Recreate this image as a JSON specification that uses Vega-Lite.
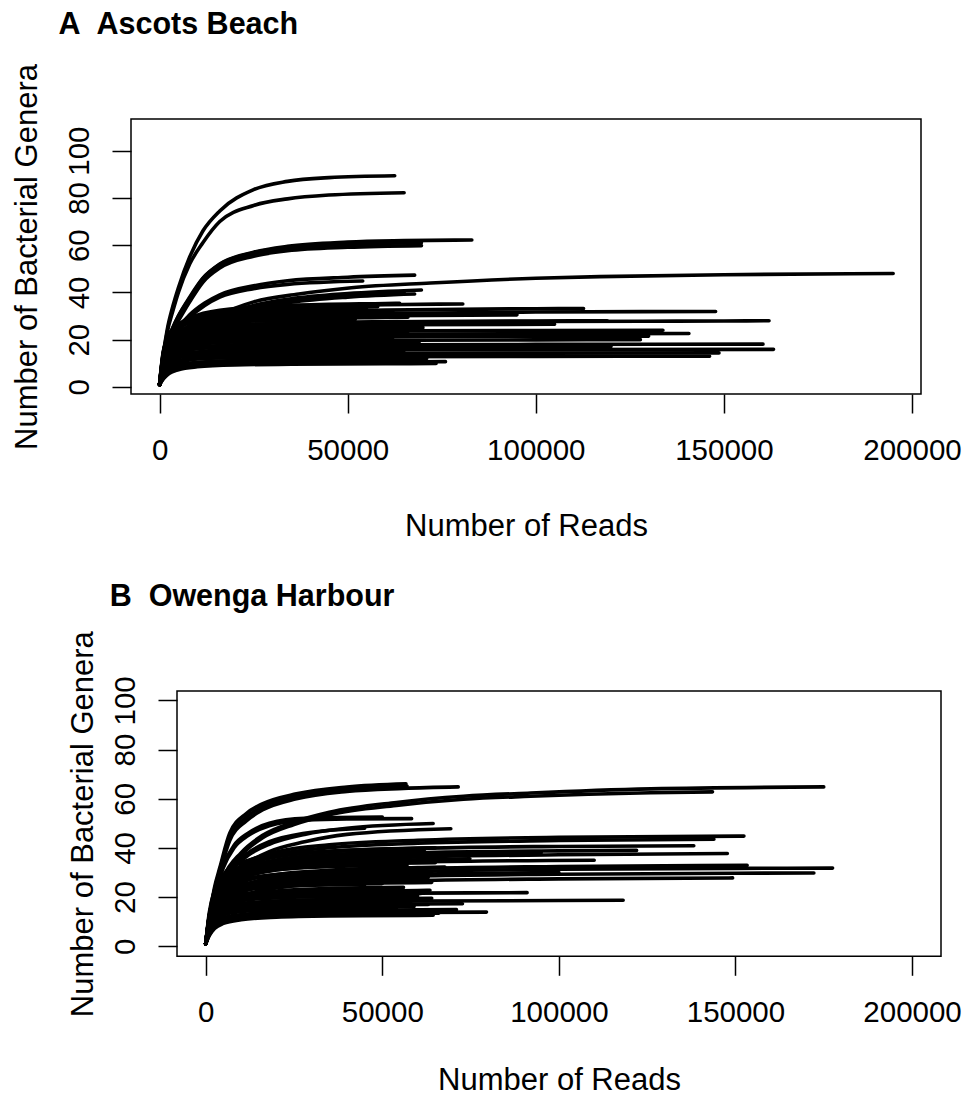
{
"$schema": "https://vega.github.io/schema/vega-lite/v6.json",
"background": "white",
"autosize": {"type": "pad"},
"padding": {"left": 7, "top": 9, "right": 0, "bottom": 0},
"spacing": 38,
"datasets": {
"a": [
{"s":"a1","x":0,"y":1},{"s":"a1","x":1000,"y":14},{"s":"a1","x":2000,"y":24},{"s":"a1","x":3500,"y":34},{"s":"a1","x":5000,"y":42},{"s":"a1","x":8000,"y":55},{"s":"a1","x":11500,"y":66},{"s":"a1","x":16000,"y":74.5},{"s":"a1","x":25000,"y":83.5},{"s":"a1","x":34000,"y":87},{"s":"a1","x":45000,"y":88.6},{"s":"a1","x":62500,"y":89.4},
{"s":"a2","x":0,"y":1},{"s":"a2","x":1000,"y":13.5},{"s":"a2","x":2000,"y":23},{"s":"a2","x":3500,"y":32},{"s":"a2","x":5000,"y":40},{"s":"a2","x":8000,"y":52},{"s":"a2","x":11500,"y":61},{"s":"a2","x":16000,"y":70},{"s":"a2","x":25000,"y":76.8},{"s":"a2","x":34000,"y":79.6},{"s":"a2","x":45000,"y":81.2},{"s":"a2","x":65000,"y":82.2},
{"s":"a3","x":0,"y":1},{"s":"a3","x":1000,"y":11},{"s":"a3","x":2000,"y":19},{"s":"a3","x":3500,"y":25},{"s":"a3","x":5000,"y":30},{"s":"a3","x":8000,"y":38},{"s":"a3","x":11500,"y":46},{"s":"a3","x":16000,"y":52},{"s":"a3","x":25000,"y":57},{"s":"a3","x":34000,"y":59.5},{"s":"a3","x":50000,"y":61.3},{"s":"a3","x":65000,"y":61.9},{"s":"a3","x":83000,"y":62.2},
{"s":"a4","x":0,"y":1},{"s":"a4","x":1000,"y":11},{"s":"a4","x":2000,"y":18.5},{"s":"a4","x":3500,"y":24.5},{"s":"a4","x":5000,"y":29},{"s":"a4","x":8000,"y":37},{"s":"a4","x":11500,"y":45.5},{"s":"a4","x":16000,"y":51.5},{"s":"a4","x":25000,"y":56.5},{"s":"a4","x":34000,"y":58.8},{"s":"a4","x":50000,"y":60.3},{"s":"a4","x":69600,"y":61},
{"s":"a5","x":0,"y":1},{"s":"a5","x":1000,"y":10.5},{"s":"a5","x":2000,"y":18},{"s":"a5","x":3500,"y":24},{"s":"a5","x":5000,"y":28},{"s":"a5","x":8000,"y":36},{"s":"a5","x":11500,"y":44.3},{"s":"a5","x":16000,"y":50.3},{"s":"a5","x":25000,"y":55.3},{"s":"a5","x":34000,"y":57.6},{"s":"a5","x":50000,"y":59.1},{"s":"a5","x":69600,"y":59.8},
{"s":"a6","x":0,"y":1},{"s":"a6","x":1000,"y":11},{"s":"a6","x":2000,"y":19},{"s":"a6","x":3500,"y":25},{"s":"a6","x":5000,"y":30},{"s":"a6","x":8000,"y":37.5},{"s":"a6","x":11500,"y":45.8},{"s":"a6","x":16000,"y":51.8},{"s":"a6","x":25000,"y":56.8},{"s":"a6","x":34000,"y":59},{"s":"a6","x":50000,"y":60.4},{"s":"a6","x":60000,"y":61},
{"s":"a7","x":0,"y":1},{"s":"a7","x":1000,"y":10},{"s":"a7","x":2000,"y":16},{"s":"a7","x":3500,"y":21.5},{"s":"a7","x":5000,"y":25},{"s":"a7","x":8000,"y":30.5},{"s":"a7","x":12000,"y":35.5},{"s":"a7","x":16000,"y":39},{"s":"a7","x":25000,"y":42.8},{"s":"a7","x":34000,"y":44.9},{"s":"a7","x":50000,"y":46.4},{"s":"a7","x":67800,"y":47.3},
{"s":"a8","x":0,"y":1},{"s":"a8","x":1000,"y":10},{"s":"a8","x":2000,"y":15.5},{"s":"a8","x":3500,"y":21},{"s":"a8","x":5000,"y":24.5},{"s":"a8","x":8000,"y":29.5},{"s":"a8","x":12000,"y":34.5},{"s":"a8","x":16000,"y":38},{"s":"a8","x":25000,"y":41.6},{"s":"a8","x":34000,"y":43.4},{"s":"a8","x":54000,"y":44.8},
{"s":"a9","x":0,"y":1},{"s":"a9","x":1000,"y":9},{"s":"a9","x":2000,"y":13.5},{"s":"a9","x":3500,"y":16.5},{"s":"a9","x":5000,"y":19},{"s":"a9","x":8000,"y":23},{"s":"a9","x":16000,"y":30.5},{"s":"a9","x":25000,"y":36},{"s":"a9","x":37000,"y":39.3},{"s":"a9","x":51000,"y":42},{"s":"a9","x":72000,"y":44},{"s":"a9","x":100000,"y":46},{"s":"a9","x":117000,"y":46.7},{"s":"a9","x":150000,"y":47.5},{"s":"a9","x":195000,"y":48},
{"s":"a10","x":0,"y":1},{"s":"a10","x":1000,"y":9.5},{"s":"a10","x":2000,"y":14.5},{"s":"a10","x":3500,"y":18},{"s":"a10","x":5000,"y":20},{"s":"a10","x":8000,"y":24},{"s":"a10","x":16000,"y":30},{"s":"a10","x":25000,"y":34.5},{"s":"a10","x":35000,"y":37.3},{"s":"a10","x":50000,"y":39.5},{"s":"a10","x":69600,"y":41},
{"s":"a11","x":0,"y":1},{"s":"a11","x":1000,"y":9.5},{"s":"a11","x":2000,"y":14},{"s":"a11","x":3500,"y":17.5},{"s":"a11","x":5000,"y":19.5},{"s":"a11","x":8000,"y":23},{"s":"a11","x":16000,"y":28.5},{"s":"a11","x":25000,"y":33},{"s":"a11","x":35000,"y":35.8},{"s":"a11","x":50000,"y":38},{"s":"a11","x":67800,"y":39.3},
{"s":"a12","x":0,"y":1},{"s":"a12","x":1000,"y":9.5},{"s":"a12","x":2000,"y":14.5},{"s":"a12","x":3500,"y":18},{"s":"a12","x":5000,"y":20},{"s":"a12","x":8000,"y":23.5},{"s":"a12","x":16000,"y":29},{"s":"a12","x":25000,"y":33.5},{"s":"a12","x":35000,"y":36.5},{"s":"a12","x":50000,"y":38.5},{"s":"a12","x":65000,"y":40},
{"s":"a13","x":0,"y":1},{"s":"a13","x":1000,"y":12},{"s":"a13","x":2500,"y":20},{"s":"a13","x":5000,"y":25.7},{"s":"a13","x":10000,"y":30},{"s":"a13","x":20000,"y":32.7},{"s":"a13","x":35000,"y":34.1},{"s":"a13","x":60000,"y":34.8},{"s":"a13","x":80600,"y":35.1},
{"s":"a14","x":0,"y":1},{"s":"a14","x":1000,"y":12.2},{"s":"a14","x":2500,"y":20.3},{"s":"a14","x":5000,"y":26.1},{"s":"a14","x":10000,"y":30.4},{"s":"a14","x":20000,"y":33.2},{"s":"a14","x":35000,"y":34.5},{"s":"a14","x":60000,"y":35.3},{"s":"a14","x":63800,"y":35.4},
{"s":"a15","x":0,"y":1},{"s":"a15","x":1000,"y":8.5},{"s":"a15","x":2500,"y":15.5},{"s":"a15","x":5000,"y":21.3},{"s":"a15","x":10000,"y":26.2},{"s":"a15","x":20000,"y":29.7},{"s":"a15","x":35000,"y":31.4},{"s":"a15","x":60000,"y":32.5},{"s":"a15","x":100000,"y":33.1},{"s":"a15","x":112700,"y":33.2},
{"s":"a16","x":0,"y":1},{"s":"a16","x":1000,"y":8.2},{"s":"a16","x":2500,"y":14.8},{"s":"a16","x":5000,"y":20.4},{"s":"a16","x":10000,"y":25.1},{"s":"a16","x":20000,"y":28.4},{"s":"a16","x":35000,"y":30},{"s":"a16","x":60000,"y":31},{"s":"a16","x":100000,"y":31.7},{"s":"a16","x":147800,"y":31.9},
{"s":"a17","x":0,"y":1},{"s":"a17","x":1000,"y":9.4},{"s":"a17","x":2500,"y":15.7},{"s":"a17","x":5000,"y":20.2},{"s":"a17","x":10000,"y":23.6},{"s":"a17","x":20000,"y":25.7},{"s":"a17","x":35000,"y":26.8},{"s":"a17","x":60000,"y":27.4},{"s":"a17","x":100000,"y":27.7},{"s":"a17","x":150000,"y":27.9},{"s":"a17","x":162000,"y":28},
{"s":"a18","x":0,"y":1},{"s":"a18","x":1000,"y":9.5},{"s":"a18","x":2500,"y":15.8},{"s":"a18","x":5000,"y":20.3},{"s":"a18","x":10000,"y":23.7},{"s":"a18","x":20000,"y":25.9},{"s":"a18","x":35000,"y":27},{"s":"a18","x":60000,"y":27.6},{"s":"a18","x":100000,"y":27.9},{"s":"a18","x":119000,"y":28},
{"s":"a19","x":0,"y":1},{"s":"a19","x":1000,"y":10.4},{"s":"a19","x":2500,"y":15.4},{"s":"a19","x":5000,"y":18.4},{"s":"a19","x":10000,"y":20.4},{"s":"a19","x":20000,"y":21.5},{"s":"a19","x":35000,"y":22},{"s":"a19","x":60000,"y":22.3},{"s":"a19","x":100000,"y":22.5},{"s":"a19","x":140700,"y":22.6},
{"s":"a20","x":0,"y":1},{"s":"a20","x":1000,"y":11},{"s":"a20","x":2500,"y":16.4},{"s":"a20","x":5000,"y":19.5},{"s":"a20","x":10000,"y":21.6},{"s":"a20","x":20000,"y":22.8},{"s":"a20","x":35000,"y":23.4},{"s":"a20","x":60000,"y":23.7},{"s":"a20","x":100000,"y":23.9},{"s":"a20","x":133800,"y":24},
{"s":"a21","x":0,"y":1},{"s":"a21","x":1000,"y":9.1},{"s":"a21","x":2500,"y":13.6},{"s":"a21","x":5000,"y":16.2},{"s":"a21","x":10000,"y":17.9},{"s":"a21","x":20000,"y":19},{"s":"a21","x":35000,"y":19.4},{"s":"a21","x":60000,"y":19.7},{"s":"a21","x":100000,"y":19.9},{"s":"a21","x":127800,"y":20},
{"s":"a22","x":0,"y":1},{"s":"a22","x":1000,"y":8.3},{"s":"a22","x":2500,"y":12.3},{"s":"a22","x":5000,"y":14.7},{"s":"a22","x":10000,"y":16.3},{"s":"a22","x":20000,"y":17.2},{"s":"a22","x":35000,"y":17.6},{"s":"a22","x":60000,"y":17.8},{"s":"a22","x":100000,"y":18},{"s":"a22","x":160400,"y":18.1},
{"s":"a23","x":0,"y":1},{"s":"a23","x":1000,"y":8.8},{"s":"a23","x":2500,"y":12.1},{"s":"a23","x":5000,"y":13.7},{"s":"a23","x":10000,"y":14.7},{"s":"a23","x":20000,"y":15.3},{"s":"a23","x":35000,"y":15.6},{"s":"a23","x":60000,"y":15.7},{"s":"a23","x":100000,"y":15.8},{"s":"a23","x":163200,"y":15.9},
{"s":"a24","x":0,"y":1},{"s":"a24","x":1000,"y":8},{"s":"a24","x":2500,"y":10.9},{"s":"a24","x":5000,"y":12.4},{"s":"a24","x":10000,"y":13.3},{"s":"a24","x":20000,"y":13.9},{"s":"a24","x":35000,"y":14.1},{"s":"a24","x":60000,"y":14.2},{"s":"a24","x":100000,"y":14.3},{"s":"a24","x":148700,"y":14.4},
{"s":"a25","x":0,"y":1},{"s":"a25","x":1000,"y":7.2},{"s":"a25","x":2500,"y":9.9},{"s":"a25","x":5000,"y":11.2},{"s":"a25","x":10000,"y":12},{"s":"a25","x":20000,"y":12.5},{"s":"a25","x":35000,"y":12.7},{"s":"a25","x":60000,"y":12.8},{"s":"a25","x":100000,"y":12.9},{"s":"a25","x":146200,"y":13},
{"s":"a26","x":0,"y":1},{"s":"a26","x":1000,"y":3.4},{"s":"a26","x":2500,"y":5.7},{"s":"a26","x":5000,"y":7.3},{"s":"a26","x":10000,"y":8.5},{"s":"a26","x":20000,"y":9.3},{"s":"a26","x":35000,"y":9.6},{"s":"a26","x":60000,"y":9.8},{"s":"a26","x":73500,"y":9.9},
{"s":"a27","x":0,"y":1},{"s":"a27","x":1000,"y":5.1},{"s":"a27","x":2500,"y":7.6},{"s":"a27","x":5000,"y":9},{"s":"a27","x":10000,"y":10},{"s":"a27","x":20000,"y":10.6},{"s":"a27","x":35000,"y":10.8},{"s":"a27","x":60000,"y":10.95},{"s":"a27","x":70500,"y":11},
{"s":"a28","x":0,"y":1},{"s":"a28","x":1000,"y":3.7},{"s":"a28","x":2500,"y":6.1},{"s":"a28","x":5000,"y":7.9},{"s":"a28","x":10000,"y":9.2},{"s":"a28","x":20000,"y":10},{"s":"a28","x":35000,"y":10.4},{"s":"a28","x":60000,"y":10.6},{"s":"a28","x":76000,"y":10.7},
{"s":"a29","x":0,"y":1},{"s":"a29","x":1000,"y":11.4},{"s":"a29","x":2500,"y":19},{"s":"a29","x":5000,"y":24.4},{"s":"a29","x":10000,"y":28.5},{"s":"a29","x":20000,"y":31.1},{"s":"a29","x":35000,"y":32.4},{"s":"a29","x":55000,"y":33},
{"s":"a30","x":0,"y":1},{"s":"a30","x":1000,"y":14.4},{"s":"a30","x":2500,"y":21.4},{"s":"a30","x":5000,"y":25.5},{"s":"a30","x":10000,"y":28.2},{"s":"a30","x":20000,"y":29.8},{"s":"a30","x":35000,"y":30.6},{"s":"a30","x":60000,"y":31},
{"s":"a31","x":0,"y":1},{"s":"a31","x":1000,"y":10.1},{"s":"a31","x":2500,"y":16.9},{"s":"a31","x":5000,"y":21.7},{"s":"a31","x":10000,"y":25.3},{"s":"a31","x":20000,"y":27.6},{"s":"a31","x":35000,"y":28.8},{"s":"a31","x":60000,"y":29.4},{"s":"a31","x":66000,"y":29.5},
{"s":"a32","x":0,"y":1},{"s":"a32","x":1000,"y":15.2},{"s":"a32","x":2500,"y":20.8},{"s":"a32","x":5000,"y":23.6},{"s":"a32","x":10000,"y":25.4},{"s":"a32","x":20000,"y":26.4},{"s":"a32","x":35000,"y":26.8},{"s":"a32","x":50000,"y":27},
{"s":"a33","x":0,"y":1},{"s":"a33","x":1000,"y":12},{"s":"a33","x":2500,"y":17.8},{"s":"a33","x":5000,"y":21.3},{"s":"a33","x":10000,"y":23.6},{"s":"a33","x":20000,"y":24.9},{"s":"a33","x":35000,"y":25.5},{"s":"a33","x":60000,"y":25.9},{"s":"a33","x":70000,"y":26},
{"s":"a34","x":0,"y":1},{"s":"a34","x":1000,"y":13.8},{"s":"a34","x":2500,"y":18.8},{"s":"a34","x":5000,"y":21.4},{"s":"a34","x":10000,"y":23},{"s":"a34","x":20000,"y":23.9},{"s":"a34","x":35000,"y":24.3},{"s":"a34","x":64000,"y":24.5},
{"s":"a35","x":0,"y":1},{"s":"a35","x":1000,"y":10.7},{"s":"a35","x":2500,"y":15.9},{"s":"a35","x":5000,"y":18.9},{"s":"a35","x":10000,"y":21},{"s":"a35","x":20000,"y":22.2},{"s":"a35","x":35000,"y":22.7},{"s":"a35","x":58000,"y":23},
{"s":"a36","x":0,"y":1},{"s":"a36","x":1000,"y":7.4},{"s":"a36","x":2500,"y":12.3},{"s":"a36","x":5000,"y":15.8},{"s":"a36","x":10000,"y":18.4},{"s":"a36","x":20000,"y":20.1},{"s":"a36","x":35000,"y":20.9},{"s":"a36","x":60000,"y":21.4},{"s":"a36","x":72000,"y":21.5},
{"s":"a37","x":0,"y":1},{"s":"a37","x":1000,"y":11.3},{"s":"a37","x":2500,"y":15.4},{"s":"a37","x":5000,"y":17.5},{"s":"a37","x":10000,"y":18.8},{"s":"a37","x":20000,"y":19.5},{"s":"a37","x":35000,"y":19.9},{"s":"a37","x":62000,"y":20},
{"s":"a38","x":0,"y":1},{"s":"a38","x":1000,"y":8.6},{"s":"a38","x":2500,"y":12.7},{"s":"a38","x":5000,"y":15.2},{"s":"a38","x":10000,"y":16.8},{"s":"a38","x":20000,"y":17.7},{"s":"a38","x":35000,"y":18.2},{"s":"a38","x":60000,"y":18.4},{"s":"a38","x":68000,"y":18.5},
{"s":"a39","x":0,"y":1},{"s":"a39","x":1000,"y":5.9},{"s":"a39","x":2500,"y":9.8},{"s":"a39","x":5000,"y":12.6},{"s":"a39","x":10000,"y":14.7},{"s":"a39","x":20000,"y":16},{"s":"a39","x":35000,"y":16.6},{"s":"a39","x":56000,"y":17},
{"s":"a40","x":0,"y":1},{"s":"a40","x":1000,"y":7.4},{"s":"a40","x":2500,"y":11},{"s":"a40","x":5000,"y":13.1},{"s":"a40","x":10000,"y":14.6},{"s":"a40","x":20000,"y":15.4},{"s":"a40","x":35000,"y":15.8},{"s":"a40","x":60000,"y":16},{"s":"a40","x":75000,"y":16.1},
{"s":"a41","x":0,"y":1},{"s":"a41","x":1000,"y":5},{"s":"a41","x":2500,"y":8.3},{"s":"a41","x":5000,"y":10.7},{"s":"a41","x":10000,"y":12.5},{"s":"a41","x":20000,"y":13.6},{"s":"a41","x":35000,"y":14.2},{"s":"a41","x":65000,"y":14.5},
{"s":"a42","x":0,"y":1},{"s":"a42","x":1000,"y":6},{"s":"a42","x":2500,"y":9},{"s":"a42","x":5000,"y":10.7},{"s":"a42","x":10000,"y":11.9},{"s":"a42","x":20000,"y":12.5},{"s":"a42","x":35000,"y":12.9},{"s":"a42","x":60000,"y":13},
{"s":"a43","x":0,"y":1},{"s":"a43","x":1000,"y":4.1},{"s":"a43","x":2500,"y":6.8},{"s":"a43","x":5000,"y":8.8},{"s":"a43","x":10000,"y":10.2},{"s":"a43","x":20000,"y":11.2},{"s":"a43","x":35000,"y":11.6},{"s":"a43","x":60000,"y":11.9},{"s":"a43","x":71000,"y":12},
{"s":"a44","x":0,"y":1},{"s":"a44","x":1000,"y":8},{"s":"a44","x":2500,"y":14.6},{"s":"a44","x":5000,"y":20},{"s":"a44","x":10000,"y":24.6},{"s":"a44","x":20000,"y":27.8},{"s":"a44","x":35000,"y":29.5},{"s":"a44","x":45000,"y":30},
{"s":"a45","x":0,"y":1},{"s":"a45","x":1000,"y":8.9},{"s":"a45","x":2500,"y":14.9},{"s":"a45","x":5000,"y":19.1},{"s":"a45","x":10000,"y":22.3},{"s":"a45","x":20000,"y":24.4},{"s":"a45","x":35000,"y":25.4},{"s":"a45","x":40000,"y":25.5},
{"s":"a46","x":0,"y":1},{"s":"a46","x":1000,"y":9.9},{"s":"a46","x":2500,"y":14.7},{"s":"a46","x":5000,"y":17.5},{"s":"a46","x":10000,"y":19.4},{"s":"a46","x":20000,"y":20.5},{"s":"a46","x":35000,"y":21},
{"s":"a47","x":0,"y":1},{"s":"a47","x":1000,"y":10},{"s":"a47","x":2500,"y":13.6},{"s":"a47","x":5000,"y":15.5},{"s":"a47","x":10000,"y":16.7},{"s":"a47","x":20000,"y":17.3},{"s":"a47","x":30000,"y":17.5},
{"s":"a48","x":0,"y":1},{"s":"a48","x":1000,"y":4.2},{"s":"a48","x":2500,"y":7.6},{"s":"a48","x":5000,"y":10.5},{"s":"a48","x":10000,"y":12.9},{"s":"a48","x":20000,"y":14.6},{"s":"a48","x":25000,"y":15},
{"s":"a49","x":0,"y":1},{"s":"a49","x":1000,"y":12.2},{"s":"a49","x":2500,"y":18.1},{"s":"a49","x":5000,"y":21.6},{"s":"a49","x":10000,"y":23.9},{"s":"a49","x":20000,"y":25.3},{"s":"a49","x":35000,"y":25.9},{"s":"a49","x":60000,"y":26.3},{"s":"a49","x":105000,"y":26.5},
{"s":"a50","x":0,"y":1},{"s":"a50","x":1000,"y":10.4},{"s":"a50","x":2500,"y":17.3},{"s":"a50","x":5000,"y":22.2},{"s":"a50","x":10000,"y":25.9},{"s":"a50","x":20000,"y":28.3},{"s":"a50","x":35000,"y":29.4},{"s":"a50","x":60000,"y":30.1},{"s":"a50","x":95000,"y":30.5},
{"s":"a51","x":0,"y":1},{"s":"a51","x":1000,"y":12},{"s":"a51","x":2500,"y":16.4},{"s":"a51","x":5000,"y":18.6},{"s":"a51","x":10000,"y":20},{"s":"a51","x":20000,"y":20.8},{"s":"a51","x":35000,"y":21.1},{"s":"a51","x":60000,"y":21.3},{"s":"a51","x":100000,"y":21.4},{"s":"a51","x":130000,"y":21.5},
{"s":"a52","x":0,"y":1},{"s":"a52","x":1000,"y":5.8},{"s":"a52","x":2500,"y":9.6},{"s":"a52","x":5000,"y":12.4},{"s":"a52","x":10000,"y":14.4},{"s":"a52","x":20000,"y":15.7},{"s":"a52","x":35000,"y":16.4},{"s":"a52","x":60000,"y":16.7},{"s":"a52","x":100000,"y":17},{"s":"a52","x":120000,"y":17.1},
{"s":"a53","x":0,"y":1},{"s":"a53","x":1000,"y":11.7},{"s":"a53","x":2500,"y":19.6},{"s":"a53","x":5000,"y":25.1},{"s":"a53","x":10000,"y":29.3},{"s":"a53","x":20000,"y":32},{"s":"a53","x":35000,"y":33.3},{"s":"a53","x":58000,"y":34},
{"s":"a54","x":0,"y":1},{"s":"a54","x":1000,"y":14.8},{"s":"a54","x":2500,"y":22},{"s":"a54","x":5000,"y":26.3},{"s":"a54","x":10000,"y":29.1},{"s":"a54","x":20000,"y":30.7},{"s":"a54","x":35000,"y":31.5},{"s":"a54","x":62000,"y":32},
{"s":"a55","x":0,"y":1},{"s":"a55","x":1000,"y":13.3},{"s":"a55","x":2500,"y":19.7},{"s":"a55","x":5000,"y":23.5},{"s":"a55","x":10000,"y":26.1},{"s":"a55","x":20000,"y":27.5},{"s":"a55","x":35000,"y":28.2},{"s":"a55","x":52000,"y":28.5},
{"s":"a56","x":0,"y":1},{"s":"a56","x":1000,"y":8.1},{"s":"a56","x":2500,"y":13.5},{"s":"a56","x":5000,"y":17.3},{"s":"a56","x":10000,"y":20.2},{"s":"a56","x":20000,"y":22},{"s":"a56","x":35000,"y":22.9},{"s":"a56","x":60000,"y":23.4},{"s":"a56","x":66000,"y":23.5},
{"s":"a57","x":0,"y":1},{"s":"a57","x":1000,"y":9.8},{"s":"a57","x":2500,"y":14.5},{"s":"a57","x":5000,"y":17.3},{"s":"a57","x":10000,"y":19.2},{"s":"a57","x":20000,"y":20.3},{"s":"a57","x":35000,"y":20.8},{"s":"a57","x":54000,"y":21},
{"s":"a58","x":0,"y":1},{"s":"a58","x":1000,"y":6.5},{"s":"a58","x":2500,"y":10.9},{"s":"a58","x":5000,"y":14},{"s":"a58","x":10000,"y":16.3},{"s":"a58","x":20000,"y":17.8},{"s":"a58","x":35000,"y":18.5},{"s":"a58","x":60000,"y":18.9},{"s":"a58","x":69000,"y":19},
{"s":"a59","x":0,"y":1},{"s":"a59","x":1000,"y":7.2},{"s":"a59","x":2500,"y":10.7},{"s":"a59","x":5000,"y":12.7},{"s":"a59","x":10000,"y":14.1},{"s":"a59","x":20000,"y":14.9},{"s":"a59","x":35000,"y":15.3},{"s":"a59","x":63000,"y":15.5},
{"s":"a60","x":0,"y":1},{"s":"a60","x":1000,"y":5.3},{"s":"a60","x":2500,"y":7.9},{"s":"a60","x":5000,"y":9.4},{"s":"a60","x":10000,"y":10.4},{"s":"a60","x":20000,"y":11},{"s":"a60","x":35000,"y":11.3},{"s":"a60","x":58000,"y":11.5},
{"s":"a61","x":0,"y":1},{"s":"a61","x":1000,"y":8.9},{"s":"a61","x":2500,"y":16.2},{"s":"a61","x":5000,"y":22.3},{"s":"a61","x":10000,"y":27.4},{"s":"a61","x":20000,"y":31},{"s":"a61","x":35000,"y":32.8},{"s":"a61","x":48000,"y":33.5},
{"s":"a62","x":0,"y":1},{"s":"a62","x":1000,"y":7.1},{"s":"a62","x":2500,"y":12.8},{"s":"a62","x":5000,"y":17.6},{"s":"a62","x":10000,"y":21.7},{"s":"a62","x":20000,"y":24.5},{"s":"a62","x":35000,"y":26},{"s":"a62","x":60000,"y":26.9},{"s":"a62","x":68000,"y":27},
{"s":"a63","x":0,"y":1},{"s":"a63","x":1000,"y":14.1},{"s":"a63","x":2500,"y":21},{"s":"a63","x":5000,"y":25.1},{"s":"a63","x":10000,"y":27.8},{"s":"a63","x":20000,"y":29.3},{"s":"a63","x":35000,"y":30.1},{"s":"a63","x":64000,"y":30.5},
{"s":"a64","x":0,"y":1},{"s":"a64","x":1000,"y":8.6},{"s":"a64","x":2500,"y":14.3},{"s":"a64","x":5000,"y":18.4},{"s":"a64","x":10000,"y":21.4},{"s":"a64","x":20000,"y":23.4},{"s":"a64","x":35000,"y":24.3},{"s":"a64","x":60000,"y":24.9},{"s":"a64","x":70000,"y":25},
{"s":"a65","x":0,"y":1},{"s":"a65","x":1000,"y":12.4},{"s":"a65","x":2500,"y":16.9},{"s":"a65","x":5000,"y":19.2},{"s":"a65","x":10000,"y":20.7},{"s":"a65","x":20000,"y":21.5},{"s":"a65","x":35000,"y":21.8},{"s":"a65","x":61000,"y":22},
{"s":"a66","x":0,"y":1},{"s":"a66","x":1000,"y":8.2},{"s":"a66","x":2500,"y":12.2},{"s":"a66","x":5000,"y":14.6},{"s":"a66","x":10000,"y":16.2},{"s":"a66","x":20000,"y":17.1},{"s":"a66","x":35000,"y":17.5},{"s":"a66","x":67000,"y":17.8},
{"s":"a67","x":0,"y":1},{"s":"a67","x":1000,"y":4.8},{"s":"a67","x":2500,"y":7.9},{"s":"a67","x":5000,"y":10.2},{"s":"a67","x":10000,"y":11.9},{"s":"a67","x":20000,"y":13},{"s":"a67","x":35000,"y":13.5},{"s":"a67","x":57000,"y":13.8}
],
"b": [
{"s":"b1","x":0,"y":1},{"s":"b1","x":1000,"y":12},{"s":"b1","x":2500,"y":24},{"s":"b1","x":4000,"y":32},{"s":"b1","x":6800,"y":46},{"s":"b1","x":11500,"y":54},{"s":"b1","x":16200,"y":58},{"s":"b1","x":25700,"y":62},{"s":"b1","x":40000,"y":64.8},{"s":"b1","x":56700,"y":66.1},
{"s":"b2","x":0,"y":1},{"s":"b2","x":1000,"y":12},{"s":"b2","x":2500,"y":23},{"s":"b2","x":4000,"y":31},{"s":"b2","x":6800,"y":44.5},{"s":"b2","x":11500,"y":52.5},{"s":"b2","x":16200,"y":56.8},{"s":"b2","x":25700,"y":61},{"s":"b2","x":40000,"y":63.8},{"s":"b2","x":57000,"y":65.2},
{"s":"b3","x":0,"y":1},{"s":"b3","x":1000,"y":11},{"s":"b3","x":2500,"y":22},{"s":"b3","x":4000,"y":30},{"s":"b3","x":6800,"y":43},{"s":"b3","x":11500,"y":51},{"s":"b3","x":16200,"y":55.5},{"s":"b3","x":25700,"y":60},{"s":"b3","x":40000,"y":63},{"s":"b3","x":56000,"y":64.2},{"s":"b3","x":71500,"y":64.8},
{"s":"b4","x":0,"y":1},{"s":"b4","x":1000,"y":9},{"s":"b4","x":2000,"y":15},{"s":"b4","x":5000,"y":28},{"s":"b4","x":10000,"y":38},{"s":"b4","x":16000,"y":45},{"s":"b4","x":25000,"y":50.5},{"s":"b4","x":35000,"y":54.5},{"s":"b4","x":54000,"y":58.5},{"s":"b4","x":73000,"y":61},{"s":"b4","x":92000,"y":62.3},{"s":"b4","x":126000,"y":64},{"s":"b4","x":175000,"y":64.8},
{"s":"b5","x":0,"y":1},{"s":"b5","x":1000,"y":9},{"s":"b5","x":2000,"y":15},{"s":"b5","x":5000,"y":27},{"s":"b5","x":10000,"y":37},{"s":"b5","x":16000,"y":44},{"s":"b5","x":25000,"y":49.5},{"s":"b5","x":35000,"y":53.5},{"s":"b5","x":54000,"y":57.3},{"s":"b5","x":73000,"y":59.8},{"s":"b5","x":92000,"y":61},{"s":"b5","x":126000,"y":62.4},{"s":"b5","x":143500,"y":62.8},
{"s":"b6","x":0,"y":1},{"s":"b6","x":1000,"y":10},{"s":"b6","x":2500,"y":20},{"s":"b6","x":5000,"y":32},{"s":"b6","x":8000,"y":40},{"s":"b6","x":12000,"y":45},{"s":"b6","x":18000,"y":49},{"s":"b6","x":28000,"y":51.3},{"s":"b6","x":40000,"y":51.8},{"s":"b6","x":58300,"y":51.9},
{"s":"b7","x":0,"y":1},{"s":"b7","x":1000,"y":10},{"s":"b7","x":2500,"y":21},{"s":"b7","x":5000,"y":33},{"s":"b7","x":8000,"y":41},{"s":"b7","x":12000,"y":46},{"s":"b7","x":18000,"y":50},{"s":"b7","x":28000,"y":52},{"s":"b7","x":50000,"y":52.5},
{"s":"b8","x":0,"y":1},{"s":"b8","x":1000,"y":9},{"s":"b8","x":2500,"y":17},{"s":"b8","x":5000,"y":26},{"s":"b8","x":8000,"y":32},{"s":"b8","x":12000,"y":37},{"s":"b8","x":18000,"y":41.5},{"s":"b8","x":28000,"y":45.5},{"s":"b8","x":40000,"y":48},{"s":"b8","x":64400,"y":49.9},
{"s":"b9","x":0,"y":1},{"s":"b9","x":1000,"y":9},{"s":"b9","x":2500,"y":16},{"s":"b9","x":5000,"y":24},{"s":"b9","x":8000,"y":29.5},{"s":"b9","x":12000,"y":34},{"s":"b9","x":18000,"y":38.5},{"s":"b9","x":28000,"y":42.5},{"s":"b9","x":40000,"y":45.5},{"s":"b9","x":69400,"y":47.8},
{"s":"b10","x":0,"y":1},{"s":"b10","x":1000,"y":9},{"s":"b10","x":2500,"y":17},{"s":"b10","x":5000,"y":27},{"s":"b10","x":8000,"y":33},{"s":"b10","x":12000,"y":38},{"s":"b10","x":18000,"y":42.5},{"s":"b10","x":28000,"y":46},{"s":"b10","x":45000,"y":48},
{"s":"b11","x":0,"y":1},{"s":"b11","x":1000,"y":9.2},{"s":"b11","x":2500,"y":17.7},{"s":"b11","x":5000,"y":25.6},{"s":"b11","x":10000,"y":32.8},{"s":"b11","x":20000,"y":38.3},{"s":"b11","x":35000,"y":41.3},{"s":"b11","x":60000,"y":43.1},{"s":"b11","x":100000,"y":44.3},{"s":"b11","x":152400,"y":44.8},
{"s":"b12","x":0,"y":1},{"s":"b12","x":1000,"y":8.9},{"s":"b12","x":2500,"y":17.2},{"s":"b12","x":5000,"y":24.9},{"s":"b12","x":10000,"y":31.9},{"s":"b12","x":20000,"y":37.2},{"s":"b12","x":35000,"y":40.1},{"s":"b12","x":60000,"y":41.9},{"s":"b12","x":100000,"y":43},{"s":"b12","x":143900,"y":43.5},
{"s":"b13","x":0,"y":1},{"s":"b13","x":1000,"y":10.5},{"s":"b13","x":2500,"y":19},{"s":"b13","x":5000,"y":26.1},{"s":"b13","x":10000,"y":32.1},{"s":"b13","x":20000,"y":36.4},{"s":"b13","x":35000,"y":38.5},{"s":"b13","x":60000,"y":39.8},{"s":"b13","x":100000,"y":40.6},{"s":"b13","x":138200,"y":40.9},
{"s":"b14","x":0,"y":1},{"s":"b14","x":1000,"y":7.7},{"s":"b14","x":2500,"y":14.9},{"s":"b14","x":5000,"y":21.5},{"s":"b14","x":10000,"y":27.6},{"s":"b14","x":20000,"y":32.2},{"s":"b14","x":35000,"y":34.7},{"s":"b14","x":60000,"y":36.3},{"s":"b14","x":100000,"y":37.2},{"s":"b14","x":147700,"y":37.7},
{"s":"b15","x":0,"y":1},{"s":"b15","x":1000,"y":10},{"s":"b15","x":2500,"y":18.2},{"s":"b15","x":5000,"y":25},{"s":"b15","x":10000,"y":30.8},{"s":"b15","x":20000,"y":34.8},{"s":"b15","x":35000,"y":36.8},{"s":"b15","x":60000,"y":38.1},{"s":"b15","x":100000,"y":38.8},{"s":"b15","x":122000,"y":39},
{"s":"b16","x":0,"y":1},{"s":"b16","x":1000,"y":6.7},{"s":"b16","x":2500,"y":13},{"s":"b16","x":5000,"y":18.7},{"s":"b16","x":10000,"y":24.1},{"s":"b16","x":20000,"y":28.1},{"s":"b16","x":35000,"y":30.2},{"s":"b16","x":60000,"y":31.6},{"s":"b16","x":100000,"y":32.4},{"s":"b16","x":153300,"y":32.9},
{"s":"b17","x":0,"y":1},{"s":"b17","x":1000,"y":6.5},{"s":"b17","x":2500,"y":12.5},{"s":"b17","x":5000,"y":18.1},{"s":"b17","x":10000,"y":23.2},{"s":"b17","x":20000,"y":27.1},{"s":"b17","x":35000,"y":29.2},{"s":"b17","x":60000,"y":30.5},{"s":"b17","x":100000,"y":31.3},{"s":"b17","x":150000,"y":31.7},{"s":"b17","x":177500,"y":31.8},
{"s":"b18","x":0,"y":1},{"s":"b18","x":1000,"y":6.1},{"s":"b18","x":2500,"y":11.7},{"s":"b18","x":5000,"y":17},{"s":"b18","x":10000,"y":21.8},{"s":"b18","x":20000,"y":25.4},{"s":"b18","x":35000,"y":27.4},{"s":"b18","x":60000,"y":28.6},{"s":"b18","x":100000,"y":29.3},{"s":"b18","x":150000,"y":29.7},{"s":"b18","x":172200,"y":29.8},
{"s":"b19","x":0,"y":1},{"s":"b19","x":1000,"y":5.7},{"s":"b19","x":2500,"y":11},{"s":"b19","x":5000,"y":15.8},{"s":"b19","x":10000,"y":20.3},{"s":"b19","x":20000,"y":23.7},{"s":"b19","x":35000,"y":25.6},{"s":"b19","x":60000,"y":26.7},{"s":"b19","x":100000,"y":27.4},{"s":"b19","x":149200,"y":27.8},
{"s":"b20","x":0,"y":1},{"s":"b20","x":1000,"y":6.3},{"s":"b20","x":2500,"y":10.6},{"s":"b20","x":5000,"y":13.6},{"s":"b20","x":10000,"y":15.8},{"s":"b20","x":20000,"y":17.3},{"s":"b20","x":35000,"y":18},{"s":"b20","x":60000,"y":18.4},{"s":"b20","x":100000,"y":18.6},{"s":"b20","x":118200,"y":18.7},
{"s":"b21","x":0,"y":1},{"s":"b21","x":1000,"y":7.4},{"s":"b21","x":2500,"y":12.4},{"s":"b21","x":5000,"y":15.9},{"s":"b21","x":10000,"y":18.6},{"s":"b21","x":20000,"y":20.3},{"s":"b21","x":35000,"y":21.1},{"s":"b21","x":60000,"y":21.6},{"s":"b21","x":91000,"y":21.8},
{"s":"b22","x":0,"y":1},{"s":"b22","x":1000,"y":4.8},{"s":"b22","x":2500,"y":7.9},{"s":"b22","x":5000,"y":10.2},{"s":"b22","x":10000,"y":11.9},{"s":"b22","x":20000,"y":13},{"s":"b22","x":35000,"y":13.5},{"s":"b22","x":60000,"y":13.8},{"s":"b22","x":79500,"y":13.9},
{"s":"b23","x":0,"y":1},{"s":"b23","x":1000,"y":5.1},{"s":"b23","x":2500,"y":8.5},{"s":"b23","x":5000,"y":10.9},{"s":"b23","x":10000,"y":12.7},{"s":"b23","x":20000,"y":13.9},{"s":"b23","x":35000,"y":14.5},{"s":"b23","x":60000,"y":14.8},{"s":"b23","x":71000,"y":14.9},
{"s":"b24","x":0,"y":1},{"s":"b24","x":1000,"y":4.3},{"s":"b24","x":2500,"y":7.2},{"s":"b24","x":5000,"y":9.3},{"s":"b24","x":10000,"y":10.8},{"s":"b24","x":20000,"y":11.8},{"s":"b24","x":35000,"y":12.3},{"s":"b24","x":60000,"y":12.5},{"s":"b24","x":64400,"y":12.6},
{"s":"b25","x":0,"y":1},{"s":"b25","x":1000,"y":7.8},{"s":"b25","x":2500,"y":13.1},{"s":"b25","x":5000,"y":16.8},{"s":"b25","x":10000,"y":19.6},{"s":"b25","x":20000,"y":21.4},{"s":"b25","x":35000,"y":22.2},{"s":"b25","x":60000,"y":22.7},{"s":"b25","x":63500,"y":22.8},
{"s":"b26","x":0,"y":1},{"s":"b26","x":1000,"y":9.3},{"s":"b26","x":2500,"y":16.8},{"s":"b26","x":5000,"y":23.1},{"s":"b26","x":10000,"y":28.5},{"s":"b26","x":20000,"y":32.2},{"s":"b26","x":35000,"y":34.1},{"s":"b26","x":60000,"y":35.2},{"s":"b26","x":74800,"y":35.6},
{"s":"b27","x":0,"y":1},{"s":"b27","x":1000,"y":8.4},{"s":"b27","x":2500,"y":15.3},{"s":"b27","x":5000,"y":21},{"s":"b27","x":10000,"y":25.8},{"s":"b27","x":20000,"y":29.2},{"s":"b27","x":35000,"y":30.9},{"s":"b27","x":60000,"y":32},{"s":"b27","x":67700,"y":32.2},
{"s":"b28","x":0,"y":1},{"s":"b28","x":1000,"y":5.9},{"s":"b28","x":2500,"y":9.9},{"s":"b28","x":5000,"y":12.7},{"s":"b28","x":10000,"y":14.8},{"s":"b28","x":20000,"y":16.2},{"s":"b28","x":35000,"y":16.8},{"s":"b28","x":60000,"y":17.2},{"s":"b28","x":72700,"y":17.3},
{"s":"b29","x":0,"y":1},{"s":"b29","x":1000,"y":13.6},{"s":"b29","x":2500,"y":22.7},{"s":"b29","x":5000,"y":29.1},{"s":"b29","x":10000,"y":34},{"s":"b29","x":20000,"y":37.1},{"s":"b29","x":35000,"y":38.6},{"s":"b29","x":60000,"y":39.5},
{"s":"b30","x":0,"y":1},{"s":"b30","x":1000,"y":10},{"s":"b30","x":2500,"y":18.2},{"s":"b30","x":5000,"y":25.1},{"s":"b30","x":10000,"y":30.8},{"s":"b30","x":20000,"y":34.9},{"s":"b30","x":35000,"y":36.9},{"s":"b30","x":55000,"y":38},
{"s":"b31","x":0,"y":1},{"s":"b31","x":1000,"y":12.6},{"s":"b31","x":2500,"y":21},{"s":"b31","x":5000,"y":26.9},{"s":"b31","x":10000,"y":31.4},{"s":"b31","x":20000,"y":34.3},{"s":"b31","x":35000,"y":35.7},{"s":"b31","x":62000,"y":36.5},
{"s":"b32","x":0,"y":1},{"s":"b32","x":1000,"y":12.1},{"s":"b32","x":2500,"y":20.2},{"s":"b32","x":5000,"y":26},{"s":"b32","x":10000,"y":30.3},{"s":"b32","x":20000,"y":33.1},{"s":"b32","x":35000,"y":34.4},{"s":"b32","x":50000,"y":35},
{"s":"b33","x":0,"y":1},{"s":"b33","x":1000,"y":8.9},{"s":"b33","x":2500,"y":16.2},{"s":"b33","x":5000,"y":22.3},{"s":"b33","x":10000,"y":27.4},{"s":"b33","x":20000,"y":31},{"s":"b33","x":35000,"y":32.8},{"s":"b33","x":65000,"y":34},
{"s":"b34","x":0,"y":1},{"s":"b34","x":1000,"y":10.7},{"s":"b34","x":2500,"y":17.8},{"s":"b34","x":5000,"y":22.9},{"s":"b34","x":10000,"y":26.7},{"s":"b34","x":20000,"y":29.2},{"s":"b34","x":35000,"y":30.4},{"s":"b34","x":58000,"y":31},
{"s":"b35","x":0,"y":1},{"s":"b35","x":1000,"y":10},{"s":"b35","x":2500,"y":16.6},{"s":"b35","x":5000,"y":21.3},{"s":"b35","x":10000,"y":24.9},{"s":"b35","x":20000,"y":27.2},{"s":"b35","x":35000,"y":28.3},{"s":"b35","x":62000,"y":29},
{"s":"b36","x":0,"y":1},{"s":"b36","x":1000,"y":9.5},{"s":"b36","x":2500,"y":15.9},{"s":"b36","x":5000,"y":20.4},{"s":"b36","x":10000,"y":23.8},{"s":"b36","x":20000,"y":26},{"s":"b36","x":35000,"y":27.1},{"s":"b36","x":52000,"y":27.5},
{"s":"b37","x":0,"y":1},{"s":"b37","x":1000,"y":8.9},{"s":"b37","x":2500,"y":14.9},{"s":"b37","x":5000,"y":19.1},{"s":"b37","x":10000,"y":22.3},{"s":"b37","x":20000,"y":24.4},{"s":"b37","x":35000,"y":25.4},{"s":"b37","x":64000,"y":26},
{"s":"b38","x":0,"y":1},{"s":"b38","x":1000,"y":8.3},{"s":"b38","x":2500,"y":13.8},{"s":"b38","x":5000,"y":17.7},{"s":"b38","x":10000,"y":20.7},{"s":"b38","x":20000,"y":22.5},{"s":"b38","x":35000,"y":23.5},{"s":"b38","x":56000,"y":24},
{"s":"b39","x":0,"y":1},{"s":"b39","x":1000,"y":9.5},{"s":"b39","x":2500,"y":14.1},{"s":"b39","x":5000,"y":16.8},{"s":"b39","x":10000,"y":18.7},{"s":"b39","x":20000,"y":19.7},{"s":"b39","x":35000,"y":20.2},{"s":"b39","x":60000,"y":20.5},
{"s":"b40","x":0,"y":1},{"s":"b40","x":1000,"y":8.9},{"s":"b40","x":2500,"y":13.2},{"s":"b40","x":5000,"y":15.7},{"s":"b40","x":10000,"y":17.4},{"s":"b40","x":20000,"y":18.4},{"s":"b40","x":35000,"y":18.9},{"s":"b40","x":48000,"y":19},
{"s":"b41","x":0,"y":1},{"s":"b41","x":1000,"y":7.9},{"s":"b41","x":2500,"y":11.7},{"s":"b41","x":5000,"y":13.9},{"s":"b41","x":10000,"y":15.4},{"s":"b41","x":20000,"y":16.3},{"s":"b41","x":35000,"y":16.7},{"s":"b41","x":63000,"y":17},
{"s":"b42","x":0,"y":1},{"s":"b42","x":1000,"y":7.2},{"s":"b42","x":2500,"y":10.7},{"s":"b42","x":5000,"y":12.7},{"s":"b42","x":10000,"y":14.1},{"s":"b42","x":20000,"y":14.9},{"s":"b42","x":35000,"y":15.3},{"s":"b42","x":54000,"y":15.5},
{"s":"b43","x":0,"y":1},{"s":"b43","x":1000,"y":4.6},{"s":"b43","x":2500,"y":7.7},{"s":"b43","x":5000,"y":9.9},{"s":"b43","x":10000,"y":11.6},{"s":"b43","x":20000,"y":12.6},{"s":"b43","x":35000,"y":13.1},{"s":"b43","x":66000,"y":13.5},
{"s":"b44","x":0,"y":1},{"s":"b44","x":1000,"y":11.6},{"s":"b44","x":2500,"y":19.3},{"s":"b44","x":5000,"y":24.8},{"s":"b44","x":10000,"y":28.9},{"s":"b44","x":20000,"y":31.5},{"s":"b44","x":35000,"y":32.8},{"s":"b44","x":40000,"y":33},
{"s":"b45","x":0,"y":1},{"s":"b45","x":1000,"y":11.7},{"s":"b45","x":2500,"y":17.4},{"s":"b45","x":5000,"y":20.7},{"s":"b45","x":10000,"y":23},{"s":"b45","x":20000,"y":24.2},{"s":"b45","x":35000,"y":24.9},{"s":"b45","x":45000,"y":25},
{"s":"b46","x":0,"y":1},{"s":"b46","x":1000,"y":10.4},{"s":"b46","x":2500,"y":15.4},{"s":"b46","x":5000,"y":18.4},{"s":"b46","x":10000,"y":20.4},{"s":"b46","x":20000,"y":21.5},{"s":"b46","x":35000,"y":22},
{"s":"b47","x":0,"y":1},{"s":"b47","x":1000,"y":7.6},{"s":"b47","x":2500,"y":11.2},{"s":"b47","x":5000,"y":13.4},{"s":"b47","x":10000,"y":14.8},{"s":"b47","x":20000,"y":15.7},{"s":"b47","x":30000,"y":16},
{"s":"b48","x":0,"y":1},{"s":"b48","x":1000,"y":7.7},{"s":"b48","x":2500,"y":14.1},{"s":"b48","x":5000,"y":19.3},{"s":"b48","x":10000,"y":23.8},{"s":"b48","x":20000,"y":26.9},{"s":"b48","x":35000,"y":28.5},{"s":"b48","x":60000,"y":29.4},{"s":"b48","x":100000,"y":30},
{"s":"b49","x":0,"y":1},{"s":"b49","x":1000,"y":9},{"s":"b49","x":2500,"y":16.4},{"s":"b49","x":5000,"y":22.5},{"s":"b49","x":10000,"y":27.7},{"s":"b49","x":20000,"y":31.3},{"s":"b49","x":35000,"y":33.2},{"s":"b49","x":60000,"y":34.3},{"s":"b49","x":110000,"y":35},
{"s":"b50","x":0,"y":1},{"s":"b50","x":1000,"y":9.8},{"s":"b50","x":2500,"y":17.8},{"s":"b50","x":5000,"y":24.5},{"s":"b50","x":10000,"y":30.1},{"s":"b50","x":20000,"y":34.1},{"s":"b50","x":35000,"y":36.1},{"s":"b50","x":60000,"y":37.3},{"s":"b50","x":95000,"y":38},
{"s":"b51","x":0,"y":1},{"s":"b51","x":1000,"y":10.1},{"s":"b51","x":2500,"y":18.4},{"s":"b51","x":5000,"y":25.3},{"s":"b51","x":10000,"y":31.1},{"s":"b51","x":20000,"y":35.1},{"s":"b51","x":35000,"y":37.2},{"s":"b51","x":62000,"y":38.5},
{"s":"b52","x":0,"y":1},{"s":"b52","x":1000,"y":11.4},{"s":"b52","x":2500,"y":19},{"s":"b52","x":5000,"y":24.4},{"s":"b52","x":10000,"y":28.5},{"s":"b52","x":20000,"y":31.1},{"s":"b52","x":35000,"y":32.4},{"s":"b52","x":57000,"y":33},
{"s":"b53","x":0,"y":1},{"s":"b53","x":1000,"y":7.9},{"s":"b53","x":2500,"y":14.3},{"s":"b53","x":5000,"y":19.6},{"s":"b53","x":10000,"y":24.2},{"s":"b53","x":20000,"y":27.3},{"s":"b53","x":35000,"y":28.9},{"s":"b53","x":64000,"y":30},
{"s":"b54","x":0,"y":1},{"s":"b54","x":1000,"y":11.9},{"s":"b54","x":2500,"y":17.6},{"s":"b54","x":5000,"y":21},{"s":"b54","x":10000,"y":23.3},{"s":"b54","x":20000,"y":24.6},{"s":"b54","x":35000,"y":25.2},{"s":"b54","x":50000,"y":25.5},
{"s":"b55","x":0,"y":1},{"s":"b55","x":1000,"y":7.4},{"s":"b55","x":2500,"y":12.3},{"s":"b55","x":5000,"y":15.9},{"s":"b55","x":10000,"y":18.5},{"s":"b55","x":20000,"y":20.2},{"s":"b55","x":35000,"y":21},{"s":"b55","x":61000,"y":21.5},
{"s":"b56","x":0,"y":1},{"s":"b56","x":1000,"y":8.4},{"s":"b56","x":2500,"y":12.4},{"s":"b56","x":5000,"y":14.8},{"s":"b56","x":10000,"y":16.4},{"s":"b56","x":20000,"y":17.4},{"s":"b56","x":35000,"y":17.8},{"s":"b56","x":58000,"y":18},
{"s":"b57","x":0,"y":1},{"s":"b57","x":1000,"y":6.5},{"s":"b57","x":2500,"y":9.7},{"s":"b57","x":5000,"y":11.5},{"s":"b57","x":10000,"y":12.8},{"s":"b57","x":20000,"y":13.5},{"s":"b57","x":35000,"y":13.8},{"s":"b57","x":63000,"y":14},
{"s":"b58","x":0,"y":1},{"s":"b58","x":1000,"y":12.4},{"s":"b58","x":2500,"y":20.7},{"s":"b58","x":5000,"y":26.6},{"s":"b58","x":10000,"y":31.1},{"s":"b58","x":20000,"y":33.9},{"s":"b58","x":35000,"y":35.3},{"s":"b58","x":55000,"y":36},
{"s":"b59","x":0,"y":1},{"s":"b59","x":1000,"y":9.3},{"s":"b59","x":2500,"y":15.5},{"s":"b59","x":5000,"y":19.9},{"s":"b59","x":10000,"y":23.2},{"s":"b59","x":20000,"y":25.4},{"s":"b59","x":35000,"y":26.4},{"s":"b59","x":60000,"y":27},
{"s":"b60","x":0,"y":1},{"s":"b60","x":1000,"y":10.5},{"s":"b60","x":2500,"y":19},{"s":"b60","x":5000,"y":26.1},{"s":"b60","x":10000,"y":32.1},{"s":"b60","x":20000,"y":36.4},{"s":"b60","x":35000,"y":38.5},{"s":"b60","x":65000,"y":40},
{"s":"b61","x":0,"y":1},{"s":"b61","x":1000,"y":11.9},{"s":"b61","x":2500,"y":19.8},{"s":"b61","x":5000,"y":25.5},{"s":"b61","x":10000,"y":29.8},{"s":"b61","x":20000,"y":32.5},{"s":"b61","x":35000,"y":33.8},{"s":"b61","x":60000,"y":34.5},
{"s":"b62","x":0,"y":1},{"s":"b62","x":1000,"y":7.3},{"s":"b62","x":2500,"y":13.3},{"s":"b62","x":5000,"y":18.3},{"s":"b62","x":10000,"y":22.5},{"s":"b62","x":20000,"y":25.5},{"s":"b62","x":35000,"y":27},{"s":"b62","x":63000,"y":28},
{"s":"b63","x":0,"y":1},{"s":"b63","x":1000,"y":10.7},{"s":"b63","x":2500,"y":15.9},{"s":"b63","x":5000,"y":18.9},{"s":"b63","x":10000,"y":21},{"s":"b63","x":20000,"y":22.2},{"s":"b63","x":35000,"y":22.7},{"s":"b63","x":56000,"y":23},
{"s":"b64","x":0,"y":1},{"s":"b64","x":1000,"y":6.7},{"s":"b64","x":2500,"y":11.2},{"s":"b64","x":5000,"y":14.4},{"s":"b64","x":10000,"y":16.8},{"s":"b64","x":20000,"y":18.3},{"s":"b64","x":35000,"y":19},{"s":"b64","x":64000,"y":19.5},
{"s":"b65","x":0,"y":1},{"s":"b65","x":1000,"y":7.5},{"s":"b65","x":2500,"y":11.1},{"s":"b65","x":5000,"y":13.3},{"s":"b65","x":10000,"y":14.7},{"s":"b65","x":20000,"y":15.6},{"s":"b65","x":35000,"y":15.9},{"s":"b65","x":59000,"y":16.2}
]
},
"vconcat": [
{
"spacing": 0,
"hconcat": [
{"width": 1, "height": 10, "data": {"values": []}, "mark": {"type": "point"}, "view": {"stroke": "transparent"}},
{
"width": 790, "height": 275,
"data": {"name": "a"},
"title": {"text": "A\u00a0 Ascots Beach", "dx": -72.4, "offset": 23},
"mark": {"type": "line", "color": "black", "strokeWidth": 3.6, "interpolate": "monotone", "strokeCap": "round", "strokeJoin": "round"},
"encoding": {
"x": {"field": "x", "type": "quantitative", "scale": {"domain": [-7600, 202400], "nice": false, "zero": false},
"axis": {"values": [0, 50000, 100000, 150000, 200000], "format": "d", "title": "Number of Reads", "titleX": 395, "titleY": 141.7}},
"y": {"field": "y", "type": "quantitative", "scale": {"domain": [-3, 113.4], "nice": false, "zero": false},
"axis": {"values": [0, 20, 40, 60, 80, 100], "format": "d", "title": "Number of Bacterial Genera", "titleX": -95, "titleY": 137.5}},
"detail": {"field": "s"}
}
}
]
},
{
"spacing": 0,
"hconcat": [
{"width": 57.3, "height": 10, "data": {"values": []}, "mark": {"type": "point"}, "view": {"stroke": "transparent"}},
{
"width": 764, "height": 265.3,
"data": {"name": "b"},
"title": {"text": "B\u00a0 Owenga Harbour", "dx": -67.3, "offset": 18.2},
"mark": {"type": "line", "color": "black", "strokeWidth": 3.6, "interpolate": "monotone", "strokeCap": "round", "strokeJoin": "round"},
"encoding": {
"x": {"field": "x", "type": "quantitative", "scale": {"domain": [-8130, 208200], "nice": false, "zero": false},
"axis": {"values": [0, 50000, 100000, 150000, 200000], "format": "d", "title": "Number of Reads", "titleX": 382, "titleY": 133}},
"y": {"field": "y", "type": "quantitative", "scale": {"domain": [-4.07, 103.8], "nice": false, "zero": false},
"axis": {"values": [0, 20, 40, 60, 80, 100], "format": "d", "title": "Number of Bacterial Genera", "titleX": -84.3, "titleY": 132.65}},
"detail": {"field": "s"}
}
}
]
}
],
"config": {
"font": "Liberation Sans",
"view": {"stroke": "black", "strokeWidth": 1.5},
"axis": {"domain": false, "grid": false, "ticks": true, "tickColor": "black", "tickWidth": 1.5, "tickSize": 19,
"labelFont": "Liberation Sans", "labelFontSize": 29.5, "labelColor": "black", "labelFlush": false, "labelOverlap": false, "labelBound": false,
"titleFont": "Liberation Sans", "titleFontSize": 31, "titleFontWeight": "normal", "titleColor": "black"},
"axisX": {"labelPadding": 23, "labelAngle": 0, "titleBaseline": "alphabetic", "titleAlign": "center", "titleAngle": 0},
"axisY": {"labelPadding": 24, "labelAngle": -90, "labelAlign": "center", "labelBaseline": "alphabetic", "titleAngle": -90, "titleBaseline": "alphabetic", "titleAlign": "center"},
"title": {"font": "Liberation Sans", "fontSize": 30.5, "fontWeight": "bold", "color": "black", "anchor": "start", "frame": "group", "baseline": "alphabetic"}
}
}
